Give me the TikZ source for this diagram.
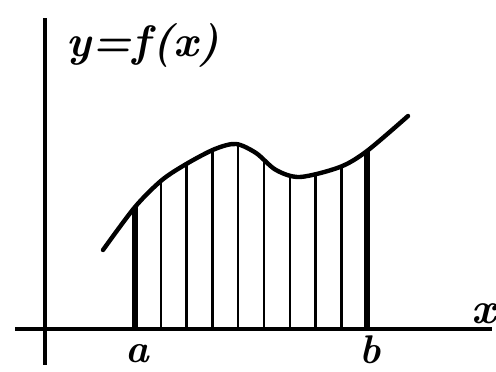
\documentclass[tikz,border=0pt]{standalone}
\usepackage{fontspec}
\usepackage{tikz}
\usetikzlibrary{positioning}
\tikzset{
  axis/.style={line width=3.2pt},
  curve/.style={line width=4.4pt, line cap=round},
  strip/.style={line width=2.4pt},
  edge/.style={line width=6pt},
  lbl/.style={inner sep=0pt, font=\bfseries\itshape\fontsize{44}{44}\selectfont},
  endlbl/.style={lbl, font=\bfseries\itshape\fontsize{40}{40}\selectfont}
}
\newcommand{\fpoints}{(103,122) (135,165) (162,192) (188,209) (215,223) (236,228) (256,219) (276,202) (300,195) (340,205) (367,221) (408,256)}

\begin{document}
\begin{tikzpicture}[x=1pt, y=1pt]
    \useasboundingbox (0,0) rectangle (496,372);

    % Ejes
    \draw[axis] (15,43) -- (492,43);
    \draw[axis] (45,7) -- (45,354);

    % Franjas bajo la curva
    \begin{scope}
        \clip (103,43) -- plot[smooth] coordinates {\fpoints} -- (408,43) -- cycle;
        \foreach \i in {1,...,8} {
            \draw[strip] (135+\i*25.8,43) -- (135+\i*25.8,300);
        }
        \draw[edge] (135,43) -- (135,300);
        \draw[edge] (367,43) -- (367,300);
    \end{scope}

    % Curva
    \draw[curve] plot[smooth] coordinates {\fpoints};

    % Etiquetas
    \node[lbl] (fx) at (143,327) {y\kern1pt=\kern1pt f\kern3pt(x)};
    \node[endlbl] (la) at (137,18) {a};
    \node[endlbl] (lb) at (370,22) {b};
    \node[lbl] (lx) at (484,58) {x};
\end{tikzpicture}
\end{document}
